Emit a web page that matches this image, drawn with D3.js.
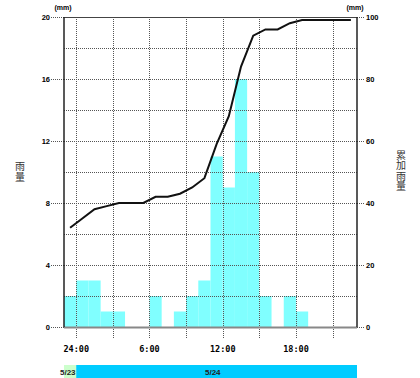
<!DOCTYPE html>
<html><head><meta charset="utf-8">
<script src="https://cdn.jsdelivr.net/npm/d3@7"></script>
<style>body{margin:0;background:#fff}svg{display:block}</style>
</head><body>
<script>
// Data (hourly, starting 23:00 on 5/23)
const hours = d3.range(24); // hour slots 0..23 => 23:00 .. 22:00
const hourly = [2,3,3,1,1,0,0,2,0,1,2,3,11,9,16,10,2,0,2,1,0,0,0,0];
const cumulative = [32,35,38,39,40,40,40,42,42,43,45,48,59,68,84,94,96,96,98,99,99,99,99,99];
const leftTicks = [0,4,8,12,16,20];
const rightTicks = [0,20,40,60,80,100];
const xTickHours = [1,7,13,19];
const xTickLabels = ["24:00","6:00","12:00","18:00"];
const dateLabels = ["5/23","5/24"];

const W = 420, H = 378;
const svg = d3.select("body").append("svg").attr("width", W).attr("height", H);
const L = 64, R = 357, T = 17, B = 327;
const x = d3.scaleLinear().domain([0,24]).range([L,R]);
const y = d3.scaleLinear().domain([0,20]).range([B,T]);
const y2 = d3.scaleLinear().domain([0,100]).range([B,T]);

// bars
svg.append("g").selectAll("rect").data(hours.filter(i=>hourly[i]>0)).join("rect")
  .attr("x", i=>x(i)).attr("width", i=>x(i+1)-x(i))
  .attr("y", i=>y(hourly[i])).attr("height", i=>y(0)-y(hourly[i]))
  .attr("fill","#80ffff");

const dot = "#555";
// horizontal grid every 2 mm
svg.append("g").selectAll("line").data(d3.range(2,20,2)).join("line")
  .attr("x1",L).attr("x2",R).attr("y1",d=>y(d)+0.5).attr("y2",d=>y(d)+0.5)
  .attr("stroke",dot).attr("stroke-dasharray","1,1");
// vertical grid every 3 hours
const vg = d3.range(1,24,3);
svg.append("g").selectAll("line").data(vg).join("line")
  .attr("x1",d=>Math.round(x(d))+0.5).attr("x2",d=>Math.round(x(d))+0.5)
  .attr("y1",T).attr("y2",B+12)
  .attr("stroke",dot).attr("stroke-dasharray","1,1");

// left leaders + labels
svg.append("g").selectAll("line").data(leftTicks).join("line")
  .attr("x1",51).attr("x2",L).attr("y1",d=>y(d)+0.5).attr("y2",d=>y(d)+0.5)
  .attr("stroke",dot).attr("stroke-dasharray","1,1");
svg.append("g").selectAll("text").data(leftTicks).join("text")
  .attr("x",50).attr("y",d=>y(d)).attr("dy","0.35em").attr("text-anchor","end")
  .attr("font-family","Liberation Sans, Arial").attr("font-weight","bold").attr("font-size",7.5)
  .text(d=>d);
// right leaders + labels
svg.append("g").selectAll("line").data(rightTicks).join("line")
  .attr("x1",R).attr("x2",365).attr("y1",d=>y2(d)+0.5).attr("y2",d=>y2(d)+0.5)
  .attr("stroke",dot).attr("stroke-dasharray","1,1");
svg.append("g").selectAll("text").data(rightTicks).join("text")
  .attr("x",366).attr("y",d=>y2(d)).attr("dy","0.35em").attr("text-anchor","start")
  .attr("font-family","Liberation Sans, Arial").attr("font-weight","bold").attr("font-size",7.5)
  .text(d=>d);

// frame
svg.append("line").attr("x1",L).attr("x2",R).attr("y1",T+0.5).attr("y2",T+0.5).attr("stroke","#444").attr("stroke-width",1);
svg.append("line").attr("x1",L).attr("x2",R).attr("y1",B+0.5).attr("y2",B+0.5).attr("stroke","#888").attr("stroke-width",2);
svg.append("line").attr("x1",L).attr("x2",L).attr("y1",T).attr("y2",B).attr("stroke","#222").attr("stroke-width",1.5);
svg.append("line").attr("x1",R).attr("x2",R).attr("y1",T).attr("y2",B).attr("stroke","#222").attr("stroke-width",1.5);

// cumulative line
svg.append("path").datum(hours)
  .attr("d", d3.line().x(i=>x(i+0.5)).y(i=>y2(cumulative[i])))
  .attr("fill","none").attr("stroke","#111").attr("stroke-width",2);

// x labels
svg.append("g").selectAll("text").data(xTickHours).join("text")
  .attr("x",d=>x(d)).attr("y",352).attr("text-anchor","middle")
  .attr("font-family","DejaVu Sans Mono, monospace").attr("font-weight","bold").attr("font-size",8.5)
  .text((d,i)=>xTickLabels[i]);

// (mm) units
svg.append("text").attr("x",63).attr("y",10).attr("text-anchor","middle")
  .attr("font-family","Liberation Sans, Arial").attr("font-weight","bold").attr("font-size",7).text("(mm)");
svg.append("text").attr("x",355).attr("y",10).attr("text-anchor","middle")
  .attr("font-family","Liberation Sans, Arial").attr("font-weight","bold").attr("font-size",7).text("(mm)");

// axis titles (vertical, single text each)
function vtext(cx, cy, str){
  svg.append("text")
    .attr("x",cx).attr("y",cy).attr("text-anchor","middle")
    .style("writing-mode","vertical-rl").style("text-orientation","upright")
    .attr("letter-spacing",0.5)
    .attr("font-family","Noto Sans CJK JP").attr("font-size",10).attr("fill","#333").text(str);
}
vtext(20,172,"雨量");
vtext(401,171,"累加雨量");

// date bar
svg.append("rect").attr("x",x(0)).attr("width",x(1)-x(0)).attr("y",365).attr("height",13).attr("fill","#ccffcc");
svg.append("rect").attr("x",x(1)).attr("width",x(24)-x(1)).attr("y",365).attr("height",13).attr("fill","#00ccff");
svg.append("text").attr("x",60).attr("y",375).attr("font-family","Liberation Sans, Arial").attr("font-weight","bold").attr("font-size",8).attr("fill","#222").text(dateLabels[0]);
svg.append("text").attr("x",205).attr("y",375).attr("font-family","Liberation Sans, Arial").attr("font-weight","bold").attr("font-size",8).attr("fill","#222").text(dateLabels[1]);
</script>
</body></html>
